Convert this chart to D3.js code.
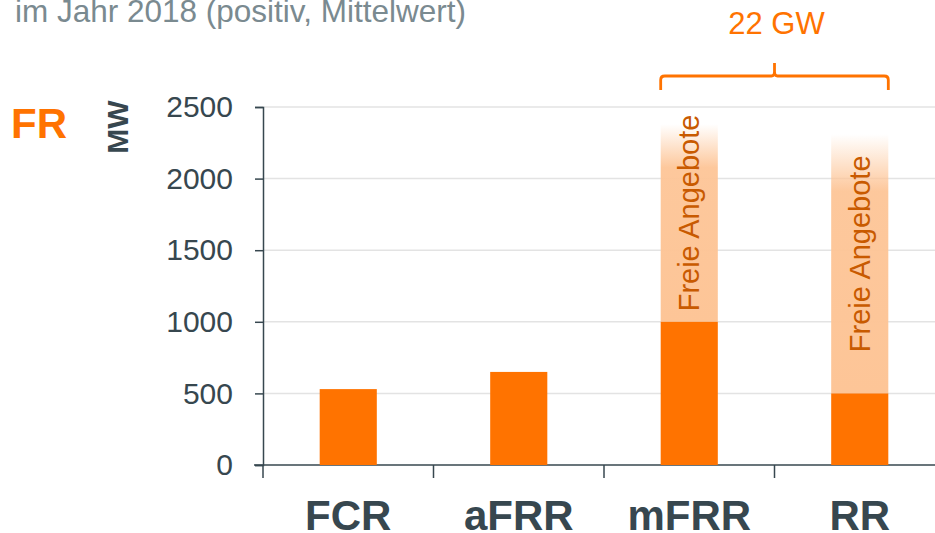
<!DOCTYPE html>
<html><head><meta charset="utf-8">
<script src="https://cdn.jsdelivr.net/npm/d3@7"></script>
<style>body{margin:0;background:#fff}svg{display:block;font-family:Arial,"Liberation Sans",sans-serif}</style>
</head><body>
<svg id="c" width="935" height="533"></svg>
<script>
const categories = ["FCR","aFRR","mFRR","RR"];
const baseValues = [530, 650, 1000, 500];
const freeTotals = [null, null, 2380, 2310];
const yTicks = [0,500,1000,1500,2000,2500];
const freeLabel = "Freie Angebote";
const title = "im Jahr 2018 (positiv, Mittelwert)";
const bracketLabel = "22 GW";

const svg = d3.select("#c");
const orange = "#FF7300", light = "#FDC597", dark = "#37474F", textOrange = "#C85A00";
const ff = "Arial,'Liberation Sans',sans-serif";
const x = d3.scaleBand().domain(categories).range([263, 945]).paddingInner(0.665).paddingOuter(0.3325);
const y = d3.scaleLinear().domain([0,2500]).range([465,107]);

const defs = svg.append("defs");
const g = defs.append("linearGradient").attr("id","fade").attr("x1",0).attr("y1",1).attr("x2",0).attr("y2",0);
g.append("stop").attr("offset","0%").attr("stop-color",light).attr("stop-opacity",1);
g.append("stop").attr("offset","78%").attr("stop-color",light).attr("stop-opacity",0.95);
g.append("stop").attr("offset","100%").attr("stop-color",light).attr("stop-opacity",0);

svg.append("text").attr("x",15).attr("y",22).attr("font-size",31.5).attr("fill","#7A8A90").text(title);
svg.append("text").attr("x",11).attr("y",138).attr("font-size",42).attr("font-weight","bold").attr("fill",orange).text("FR");
svg.append("text").attr("transform","translate(128,127) rotate(-90)").attr("text-anchor","middle")
  .attr("font-size",30).attr("font-weight","bold").attr("fill",dark).text("MW");

svg.append("g").selectAll("line").data(yTicks.filter(d=>d>0)).join("line")
  .attr("x1",263).attr("x2",935).attr("y1",d=>y(d)).attr("y2",d=>y(d))
  .attr("stroke","#E3E3E3").attr("stroke-width",1.5);

const ya = svg.append("g").attr("transform","translate(263,0)")
  .call(d3.axisLeft(y).tickValues(yTicks).tickFormat(d3.format("d")).tickSize(8).tickPadding(22));
ya.select(".domain").attr("stroke",dark).attr("stroke-width",1.5);
ya.selectAll(".tick line").attr("stroke",dark).attr("stroke-width",1.5);
ya.selectAll(".tick text").attr("font-size",30).attr("fill",dark).attr("font-family",ff);

const bounds = d3.range(categories.length+1).map(i=>263 + i*x.step());
svg.append("line").attr("x1",254).attr("x2",935).attr("y1",465).attr("y2",465).attr("stroke",dark).attr("stroke-width",1.5);
svg.append("g").selectAll("line").data(bounds).join("line")
  .attr("x1",d=>d).attr("x2",d=>d).attr("y1",465).attr("y2",478)
  .attr("stroke",dark).attr("stroke-width",1.5);
svg.append("g").selectAll("text").data(categories).join("text")
  .attr("x",d=>x(d)+x.bandwidth()/2).attr("y",530).attr("text-anchor","middle")
  .attr("font-size",42).attr("font-weight","bold").attr("fill",dark).text(d=>d);

const freeData = categories.map((c,i)=>({c, base:baseValues[i], tot:freeTotals[i]})).filter(d=>d.tot!=null);
svg.append("g").selectAll("rect").data(freeData).join("rect")
  .attr("x",d=>x(d.c)).attr("width",x.bandwidth())
  .attr("y",d=>y(d.tot)).attr("height",d=>y(d.base)-y(d.tot)).attr("fill","url(#fade)");

svg.append("g").selectAll("rect").data(categories).join("rect")
  .attr("x",d=>x(d)).attr("width",x.bandwidth())
  .attr("y",(d,i)=>y(baseValues[i])).attr("height",(d,i)=>y(0)-y(baseValues[i])).attr("fill",orange);

svg.append("g").selectAll("text").data(freeData).join("text")
  .attr("transform",d=>`translate(${x(d.c)+x.bandwidth()/2+10},${(y(d.tot)+y(d.base))/2 - 10}) rotate(-90)`)
  .attr("text-anchor","middle").attr("font-size",29).attr("fill",textOrange).text(freeLabel);

const bx1 = x("mFRR"), bx2 = x("RR")+x.bandwidth(), bm=(bx1+bx2)/2;
svg.append("path").attr("fill","none").attr("stroke",orange).attr("stroke-width",2.8)
  .attr("d",`M${bx1},90 L${bx1},80 Q${bx1},76 ${bx1+4},76 L${bm-3},76 Q${bm},76 ${bm},72 L${bm},63 M${bm},72 Q${bm},76 ${bm+3},76 L${bx2-4},76 Q${bx2},76 ${bx2},80 L${bx2},90`);
svg.append("text").attr("x",bm+2).attr("y",34).attr("text-anchor","middle").attr("font-size",31).attr("fill",orange).text(bracketLabel);
</script>
</body></html>
